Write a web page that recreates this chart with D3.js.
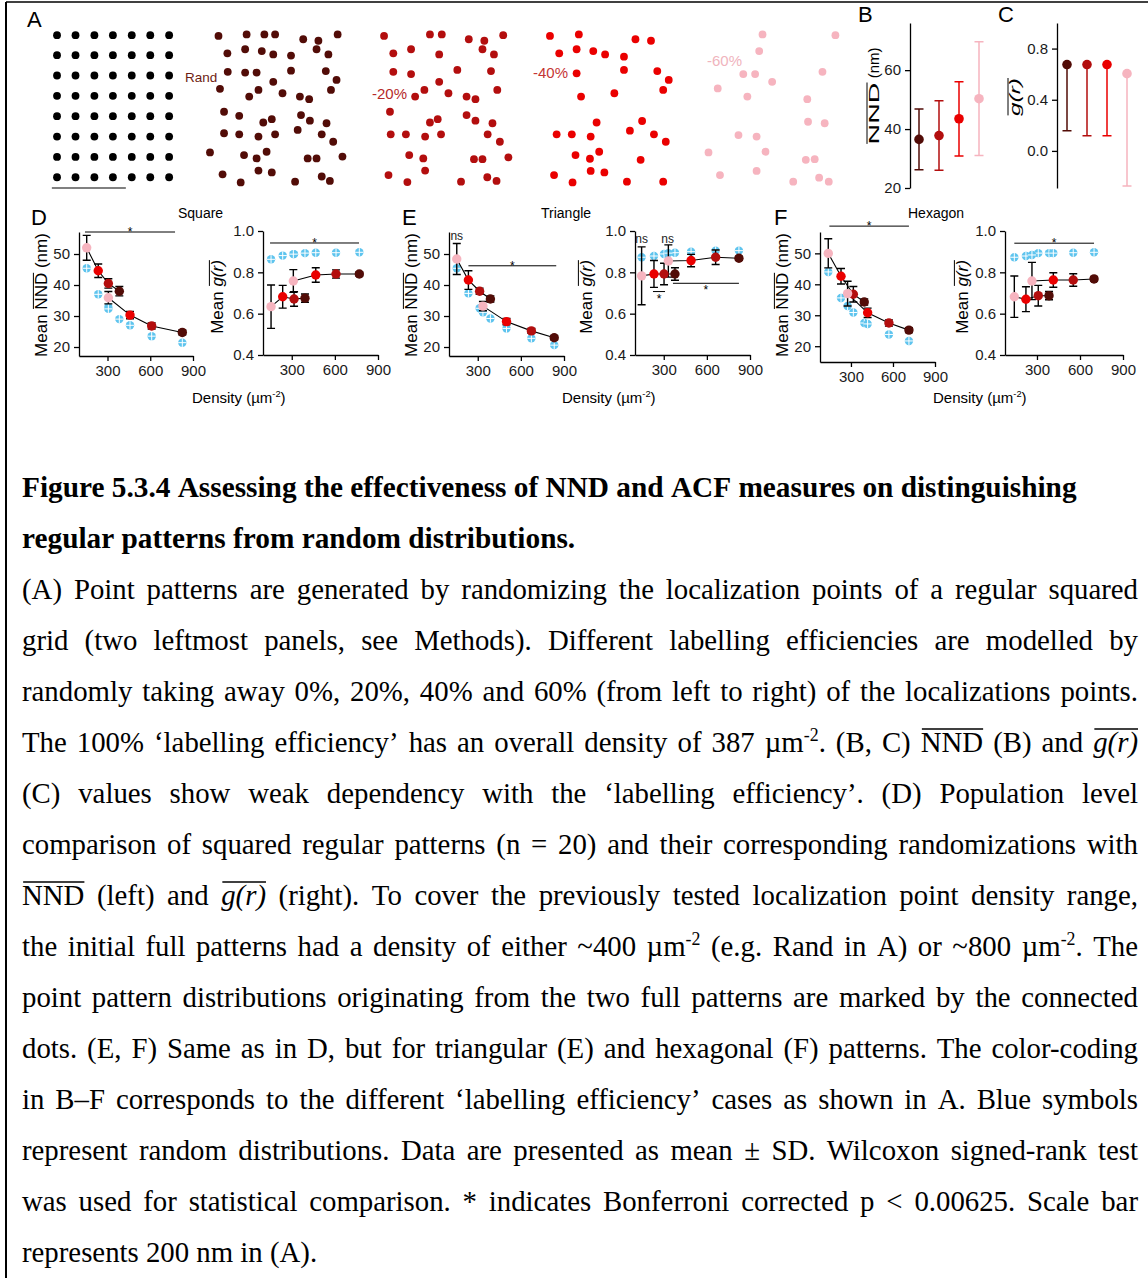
<!DOCTYPE html>
<html>
<head>
<meta charset="utf-8">
<script src="https://cdn.jsdelivr.net/npm/d3@7"></script>
<style>
  body { margin: 0; background: #fff; }
  svg { display: block; }
</style>
</head>
<body>
<svg id="fig" width="1148" height="1278"></svg>
<script>
// ---------- data ----------
const levels = ["0%", "-20%", "-40%", "-60%"];
const levelColors = ["#520c07", "#b30e0e", "#ea0000", "#f6b4bf"];
const labelColors = ["#6e1c12", "#b52a2a", "#c53535", "#f0b4bd"];
const randomColor = "#5ec4ee";

// A: point patterns, coordinates in nm
const gridColsNm = [46, 96, 147, 197, 248, 298, 349];
const gridRowsNm = [14, 68, 123, 178, 233, 288, 343, 398];
const randPts = [[50,16],[126,12],[174,12],[203,12],[279,25],[320,29],[372,12],[74,63],[122,52],[167,57],[198,66],[246,69],[315,52],[347,66],[75,113],[122,115],[153,115],[246,110],[340,111],[369,135],[54,159],[198,140],[158,162],[133,180],[223,171],[270,180],[295,187],[354,162],[65,221],[106,232],[171,250],[194,241],[273,230],[297,245],[342,252],[65,279],[106,282],[158,288],[203,282],[264,270],[329,282],[360,302],[27,331],[119,338],[153,347],[180,329],[291,347],[315,347],[385,342],[61,390],[110,412],[158,380],[194,385],[257,410],[329,396],[351,408]];
const minus20Pts = [[38,16],[162,12],[194,12],[267,25],[309,29],[360,14],[63,63],[111,52],[187,66],[304,52],[335,66],[63,113],[111,119],[236,108],[327,111],[187,140],[147,162],[122,180],[212,171],[261,180],[285,187],[344,162],[54,221],[162,250],[183,241],[261,230],[285,245],[331,252],[56,282],[97,282],[149,288],[192,282],[318,282],[351,302],[106,338],[144,347],[281,349],[304,349],[374,344],[50,392],[101,411],[149,380],[246,410],[317,398],[342,408]];
const minus40Pts = [[54,16],[132,12],[285,25],[327,29],[79,63],[126,52],[171,57],[203,66],[254,72],[126,117],[254,108],[344,111],[375,135],[138,180],[228,171],[360,162],[180,250],[303,246],[270,272],[335,282],[367,302],[72,282],[113,282],[164,288],[123,338],[162,348],[187,329],[299,351],[65,392],[115,412],[164,381],[201,385],[262,410],[360,410]];
const minus60Pts = [[196,12],[393,14],[187,57],[144,119],[176,119],[222,140],[358,113],[75,158],[155,180],[317,187],[319,248],[364,252],[131,284],[180,288],[50,331],[204,329],[313,351],[337,349],[81,392],[180,381],[279,410],[349,399],[375,410]];
const patternLabels = ["Rand", "-20%", "-40%", "-60%"];
const scaleBarNm = 200;

// B, C: one pattern at the four labelling efficiencies (mean, SD)
const bNndMean = [36.5, 37.8, 43.5, 50.3];
const bNndSd = [10.3, 11.8, 12.6, 19.3];
const cGMean = [0.675, 0.675, 0.675, 0.604];
const cGSd = [0.518, 0.557, 0.557, 0.879];

// D-F: entries 0-3 come from the ~400 µm-2 full pattern, 4-7 from the ~800 µm-2 one,
// each ordered 0%, -20%, -40%, -60%; "Rand" = randomized counterpart
const sqNndDensity = [383, 306, 235, 154, 825, 610, 458, 306];
const sqNndMean = [38, 40.5, 44.6, 52, 24.7, 26.8, 30.3, 35.9];
const sqNndSd = [1.5, 1.5, 2.2, 4, 0.8, 1, 1.2, 2];
const sqNndRand = [29, 32.8, 37, 45.4, 21.4, 23.5, 27, 32.3];
const sqGDensity = [392, 316, 237, 156, 770, 608, 467, 311];
const sqGMean = [0.675, 0.671, 0.682, 0.634, 0.792, 0.792, 0.787, 0.758];
const sqGSd = [0.02, 0.035, 0.055, 0.105, 0.01, 0.02, 0.035, 0.055];
const sqGRand = [0.893, 0.888, 0.881, 0.863, 0.897, 0.895, 0.895, 0.888];

const triNndDensity = [388, 313, 235, 154, 832, 673, 500, 336];
const triNndMean = [35.5, 38, 41.6, 48.4, 23, 25.2, 28.2, 33.2];
const triNndSd = [1, 1, 3, 5, 0.7, 0.8, 1, 1.5];
const triNndRand = [29.2, 32.5, 37.3, 45.4, 20.6, 22.8, 26, 31.2];
const triGDensity = [378, 302, 232, 146, 823, 661, 490, 332];
const triGMean = [0.792, 0.792, 0.792, 0.783, 0.868, 0.873, 0.857, 0.855];
const triGSd = [0.03, 0.052, 0.065, 0.14, 0.01, 0.035, 0.03, 0.078];
const triGRand = [0.895, 0.889, 0.879, 0.873, 0.905, 0.905, 0.9, 0.893];

const hexNndDensity = [395, 317, 229, 138, 714, 571, 419, 276];
const hexNndMean = [34.3, 36.8, 42.6, 50, 25.2, 27.5, 30.8, 37];
const hexNndSd = [1, 2.5, 2.5, 4.7, 0.8, 1, 1.5, 4];
const hexNndRand = [27.5, 30.9, 35.6, 44, 21.7, 23.8, 27.2, 33];
const hexGDensity = [384, 309, 223, 142, 698, 553, 414, 265];
const hexGMean = [0.687, 0.687, 0.67, 0.682, 0.768, 0.763, 0.763, 0.758];
const hexGSd = [0.02, 0.05, 0.06, 0.1, 0.01, 0.03, 0.035, 0.09];
const hexGRand = [0.893, 0.893, 0.879, 0.873, 0.897, 0.895, 0.893, 0.884];

// tick labels
const densityTicks = [300, 600, 900];
const nndTicks = [20, 30, 40, 50];
const gTicks = [0.4, 0.6, 0.8, 1.0];
const bTicks = [20, 40, 60];
const cTicks = [0.0, 0.4, 0.8];

// caption ({o:..} overline, {g:..} italic overline, {s:..} superscript)
const captionTitle = [
  "Figure 5.3.4 Assessing the effectiveness of NND and ACF measures on distinguishing",
  "regular patterns from random distributions."
];
const captionBody = [
  "(A) Point patterns are generated by randomizing the localization points of a regular squared",
  "grid (two leftmost panels, see Methods). Different labelling efficiencies are modelled by",
  "randomly taking away 0%, 20%, 40% and 60% (from left to right) of the localizations points.",
  "The 100% ‘labelling efficiency’ has an overall density of 387 µm{s:-2}. (B, C) {o:NND} (B) and {g:g(r)}",
  "(C) values show weak dependency with the ‘labelling efficiency’. (D) Population level",
  "comparison of squared regular patterns (n = 20) and their corresponding randomizations with",
  "{o:NND} (left) and {g:g(r)} (right). To cover the previously tested localization point density range,",
  "the initial full patterns had a density of either ~400 µm{s:-2} (e.g. Rand in A) or ~800 µm{s:-2}. The",
  "point pattern distributions originating from the two full patterns are marked by the connected",
  "dots. (E, F) Same as in D, but for triangular (E) and hexagonal (F) patterns. The color-coding",
  "in B–F corresponds to the different ‘labelling efficiency’ cases as shown in A. Blue symbols",
  "represent random distributions. Data are presented as mean ± SD. Wilcoxon signed-rank test",
  "was used for statistical comparison. * indicates Bonferroni corrected p < 0.00625. Scale bar",
  "represents 200 nm in (A)."
];

// ---------- drawing ----------
const SANS = "'Liberation Sans', Arial, sans-serif";
const SERIF = "'Liberation Serif', 'Times New Roman', serif";
const svg = d3.select("#fig");

// frame
svg.append("line").attr("x1", 6).attr("x2", 1148).attr("y1", 2).attr("y2", 2)
  .attr("stroke", "#000").attr("stroke-width", 1.5);
svg.append("line").attr("x1", 6).attr("x2", 6).attr("y1", 2).attr("y2", 1278)
  .attr("stroke", "#000").attr("stroke-width", 2);

// lays out a run of styled segments on one baseline, returns group and width
function richRun(parent, segs, fs, family) {
  const g = parent.append("g");
  let x = 0;
  segs.forEach(s => {
    const size = s.sup ? fs * 0.62 : fs;
    const t = g.append("text")
      .attr("x", x).attr("y", s.sup ? -fs * 0.38 : 0)
      .style("font-family", family)
      .style("font-size", size + "px")
      .style("font-style", s.italic ? "italic" : "normal")
      .style("font-weight", s.bold ? "bold" : "normal")
      .style("white-space", "pre")
      .attr("fill", "#000")
      .text(s.t);
    if (s.w) t.attr("textLength", s.w).attr("lengthAdjust", "spacingAndGlyphs");
    const w = s.w || t.node().getComputedTextLength();
    if (s.over) {
      g.append("line").attr("x1", x + fs * 0.04).attr("x2", x + w)
        .attr("y1", -fs * 0.8).attr("y2", -fs * 0.8)
        .attr("stroke", "#000").attr("stroke-width", Math.max(1, fs / 20));
    }
    x += w;
  });
  return { g, width: x };
}

function rotatedLabel(segs, fs, baseX, centerY) {
  const outer = svg.append("g").attr("transform", `translate(${baseX},${centerY}) rotate(-90)`);
  const r = richRun(outer, segs, fs, SANS);
  r.g.attr("transform", `translate(${-r.width / 2},0)`);
}

function plainText(x, y, str, fs, opts = {}) {
  return svg.append("text").attr("x", x).attr("y", y)
    .style("font-family", SANS).style("font-size", fs + "px")
    .attr("fill", opts.fill || "#000").attr("text-anchor", opts.anchor || "start")
    .text(str);
}

// panel letters
[["A", 27, 27], ["B", 858, 22], ["C", 998, 22], ["D", 31, 225], ["E", 402, 225], ["F", 774, 225]]
  .forEach(([t, x, y]) => plainText(x, y, t, 22));

// ---------- A: point patterns ----------
const nmPx = 74 / scaleBarNm;   // 200 nm = 74 px
function patternScales(x0, y0) {
  return {
    x: d3.scaleLinear().domain([0, 400]).range([x0, x0 + 400 * nmPx]),
    y: d3.scaleLinear().domain([0, 400]).range([y0, y0 + 400 * nmPx])
  };
}
const dotR = 3.9;
{
  const s = patternScales(40, 30);
  const grid = [];
  gridRowsNm.forEach(r => gridColsNm.forEach(c => grid.push([c, r])));
  svg.append("g").selectAll("circle").data(grid).join("circle")
    .attr("cx", d => s.x(d[0])).attr("cy", d => s.y(d[1])).attr("r", dotR).attr("fill", "#000");
  svg.append("line")
    .attr("x1", s.x(32)).attr("x2", s.x(32 + scaleBarNm))
    .attr("y1", s.y(427)).attr("y2", s.y(427))
    .attr("stroke", "#808080").attr("stroke-width", 2);
}
const patternSets = [randPts, minus20Pts, minus40Pts, minus60Pts];
const patternOrigins = [[200, 30], [370, 30], [530, 30], [690, 30]];
const patternLabelPos = [[185, 82, 13.5], [372, 99, 15], [533, 78, 15], [707, 66, 15]];
patternSets.forEach((pts, i) => {
  const s = patternScales(patternOrigins[i][0], patternOrigins[i][1]);
  svg.append("g").selectAll("circle").data(pts).join("circle")
    .attr("cx", d => s.x(d[0])).attr("cy", d => s.y(d[1])).attr("r", dotR)
    .attr("fill", levelColors[i]);
  const [lx, ly, lf] = patternLabelPos[i];
  plainText(lx, ly, patternLabels[i], lf, { fill: labelColors[i] });
});

// ---------- axis styling ----------
function styleAxis(a, fs = 15) {
  a.selectAll("text").style("font-family", SANS).style("font-size", fs + "px").attr("fill", "#1a1a1a");
  a.select(".domain").attr("stroke", "#000").attr("stroke-width", 1.3);
  a.selectAll(".tick line").attr("stroke", "#000").attr("stroke-width", 1.3);
}

// ---------- B ----------
{
  const x = d3.scalePoint().domain(levels).range([919, 979]);
  const y = d3.scaleLinear().domain([20, 76]).range([188, 23]);
  const ay = svg.append("g").attr("transform", "translate(910,0)")
    .call(d3.axisLeft(y).tickValues(bTicks).tickSize(5).tickSizeOuter(0).tickPadding(4));
  styleAxis(ay);
  const g = svg.append("g");
  levels.forEach((lv, i) => {
    const cx = x(lv), lo = y(bNndMean[i] - bNndSd[i]), hi = y(bNndMean[i] + bNndSd[i]);
    g.append("path").attr("d", `M${cx},${lo}V${hi}M${cx - 4.5},${lo}H${cx + 4.5}M${cx - 4.5},${hi}H${cx + 4.5}`)
      .attr("stroke", levelColors[i]).attr("stroke-width", 1.5).attr("fill", "none");
    g.append("circle").attr("cx", cx).attr("cy", y(bNndMean[i])).attr("r", 4.8).attr("fill", levelColors[i]);
  });
  rotatedLabel([{ t: "NND", over: true, w: 62 }, { t: " (nm)" }], 15, 879, 96);
}

// ---------- C ----------
{
  const x = d3.scalePoint().domain(levels).range([1067, 1127]);
  const y = d3.scaleLinear().domain([-0.29, 1.0]).range([188, 23]);
  const ay = svg.append("g").attr("transform", "translate(1057,0)")
    .call(d3.axisLeft(y).tickValues(cTicks).tickFormat(d3.format(".1f")).tickSize(5).tickSizeOuter(0).tickPadding(4));
  styleAxis(ay);
  const g = svg.append("g");
  levels.forEach((lv, i) => {
    const cx = x(lv), lo = y(cGMean[i] - cGSd[i]), mid = y(cGMean[i]);
    g.append("path").attr("d", `M${cx},${mid}V${lo}M${cx - 4.5},${lo}H${cx + 4.5}`)
      .attr("stroke", levelColors[i]).attr("stroke-width", 1.5).attr("fill", "none");
    g.append("circle").attr("cx", cx).attr("cy", mid).attr("r", 4.8).attr("fill", levelColors[i]);
  });
  rotatedLabel([{ t: "g(r)", over: true, italic: true, w: 38 }], 15, 1020, 97);
}

// ---------- D-F density plots ----------
function densityPlot(o) {
  const x = d3.scaleLinear().domain(o.xDomain).range([o.left, o.right]);
  const y = d3.scaleLinear().domain(o.yDomain).range([o.bottom, o.top]);
  const g = svg.append("g");
  const ax = g.append("g").attr("transform", `translate(0,${o.bottom})`)
    .call(d3.axisBottom(x).tickValues(densityTicks).tickSize(5).tickSizeOuter(0).tickPadding(4));
  const ay = g.append("g").attr("transform", `translate(${o.left},0)`)
    .call(d3.axisLeft(y).tickValues(o.yTicks).tickFormat(o.yFormat).tickSize(5).tickSizeOuter(0).tickPadding(4));
  styleAxis(ax); styleAxis(ay);

  const idx = d3.range(o.density.length);
  // randomized counterparts
  const rr = 4.2;
  idx.forEach(i => {
    const cx = x(o.density[i]), cy = y(o.rand[i]);
    g.append("circle").attr("cx", cx).attr("cy", cy).attr("r", rr).attr("fill", randomColor);
    g.append("path").attr("d", `M${cx - rr},${cy}H${cx + rr}M${cx},${cy - rr}V${cy + rr}`)
      .attr("stroke", "#fff").attr("stroke-width", 1);
  });
  // connected series from each full pattern
  const line = d3.line().x(i => x(o.density[i])).y(i => y(o.mean[i]));
  [[0, 1, 2, 3], [4, 5, 6, 7]].forEach(series => {
    const ordered = series.slice().sort((a, b) => o.density[a] - o.density[b]);
    g.append("path").attr("d", line(ordered)).attr("fill", "none").attr("stroke", "#000").attr("stroke-width", 1.1);
  });
  // error bars (mean ± SD)
  idx.forEach(i => {
    const cx = x(o.density[i]), lo = y(o.mean[i] - o.sd[i]), hi = y(o.mean[i] + o.sd[i]);
    g.append("path").attr("d", `M${cx},${lo}V${hi}M${cx - 4},${lo}H${cx + 4}M${cx - 4},${hi}H${cx + 4}`)
      .attr("stroke", "#000").attr("stroke-width", 1.4).attr("fill", "none");
  });
  idx.forEach(i => {
    g.append("circle").attr("cx", x(o.density[i])).attr("cy", y(o.mean[i])).attr("r", 4.7)
      .attr("fill", levelColors[i % 4]);
  });
  // significance marks
  (o.sig || []).forEach(s => {
    const yy = y(s.at);
    g.append("line").attr("x1", x(s.from)).attr("x2", x(s.to)).attr("y1", yy).attr("y2", yy)
      .attr("stroke", "#000").attr("stroke-width", 1);
    g.append("text").attr("x", x((s.from + s.to) / 2)).attr("y", yy + (s.below ? 11 : 4))
      .attr("text-anchor", "middle").style("font-family", SANS).style("font-size", "12px").text("*");
  });
  (o.ns || []).forEach(n => {
    g.append("text").attr("x", x(n.at)).attr("y", y(n.v)).attr("text-anchor", "middle")
      .style("font-family", SANS).style("font-size", "12px").attr("fill", "#222").text("ns");
  });
}

const f1 = d3.format(".1f");
densityPlot({ left: 79, right: 193, top: 232, bottom: 356, xDomain: [100, 900], yDomain: [17.1, 57.1],
  yTicks: nndTicks, yFormat: d3.format("d"),
  density: sqNndDensity, mean: sqNndMean, sd: sqNndSd, rand: sqNndRand,
  sig: [{ from: 142, to: 774, at: 57.1 }] });
densityPlot({ left: 263, right: 378, top: 231, bottom: 355, xDomain: [100, 900], yDomain: [0.4, 1.0],
  yTicks: gTicks, yFormat: f1,
  density: sqGDensity, mean: sqGMean, sd: sqGSd, rand: sqGRand,
  sig: [{ from: 149, to: 768, at: 0.942 }] });
densityPlot({ left: 449, right: 564, top: 232, bottom: 356, xDomain: [100, 900], yDomain: [17.1, 57.1],
  yTicks: nndTicks, yFormat: d3.format("d"),
  density: triNndDensity, mean: triNndMean, sd: triNndSd, rand: triNndRand,
  sig: [{ from: 235, to: 846, at: 46.2 }], ns: [{ at: 154, v: 54.5 }] });
densityPlot({ left: 635, right: 750, top: 231, bottom: 355, xDomain: [100, 900], yDomain: [0.4, 1.0],
  yTicks: gTicks, yFormat: f1,
  density: triGDensity, mean: triGMean, sd: triGSd, rand: triGRand,
  sig: [{ from: 225, to: 309, at: 0.707, below: true }, { from: 364, to: 823, at: 0.747, below: true }],
  ns: [{ at: 146, v: 0.942 }, { at: 327, v: 0.942 }] });
densityPlot({ left: 820, right: 935, top: 232, bottom: 362, xDomain: [79, 900], yDomain: [14.9, 56.9],
  yTicks: nndTicks, yFormat: d3.format("d"),
  density: hexNndDensity, mean: hexNndMean, sd: hexNndSd, rand: hexNndRand,
  sig: [{ from: 146, to: 714, at: 58.8 }] });
densityPlot({ left: 1005, right: 1123, top: 231, bottom: 355, xDomain: [77, 900], yDomain: [0.4, 1.0],
  yTicks: gTicks, yFormat: f1,
  density: hexGDensity, mean: hexGMean, sd: hexGSd, rand: hexGRand,
  sig: [{ from: 142, to: 698, at: 0.941 }] });

// titles and axis labels for D-F
[["Square", 178], ["Triangle", 541], ["Hexagon", 908]].forEach(([t, x]) => plainText(x, 218, t, 14));
[192, 562, 933].forEach(x => {
  const r = richRun(svg, [{ t: "Density (µm" }, { t: "-2", sup: true }, { t: ")" }], 15, SANS);
  r.g.attr("transform", `translate(${x},403)`);
});
[47, 417, 788].forEach(bx =>
  rotatedLabel([{ t: "Mean " }, { t: "NND", over: true }, { t: " (nm)" }], 17, bx, 295));
[223, 592, 968].forEach(bx =>
  rotatedLabel([{ t: "Mean " }, { t: "g(r)", italic: true, over: true }], 17, bx, 297));

// ---------- caption ----------
function parseWord(word, bold) {
  return word.split(/(\{[osg]:[^}]*\})/).filter(p => p.length).map(p => {
    const m = p.match(/^\{([osg]):([^}]*)\}$/);
    if (!m) return { t: p, bold };
    if (m[1] === "o") return { t: m[2], over: true };
    if (m[1] === "g") return { t: m[2], over: true, italic: true };
    return { t: m[2], sup: true };
  });
}
const capLeft = 22, capRight = 1138, bodyFs = 28.8, titleFs = 29.3, lineGap = 51;
function captionLine(str, baseline, bold, justify, fs) {
  const words = str.split(" ");
  const runs = words.map(w => richRun(svg, parseWord(w, bold), fs, SERIF));
  const total = d3.sum(runs, r => r.width);
  const gap = justify ? (capRight - capLeft - total) / (runs.length - 1) : fs * 0.25;
  let x = capLeft;
  runs.forEach(r => { r.g.attr("transform", `translate(${x},${baseline})`); x += r.width + gap; });
}
captionTitle.forEach((l, i) => captionLine(l, 497 + i * lineGap, true, false, titleFs));
captionBody.forEach((l, i) =>
  captionLine(l, 497 + (i + 2) * lineGap, false, i < captionBody.length - 1, bodyFs));
</script>
</body>
</html>
